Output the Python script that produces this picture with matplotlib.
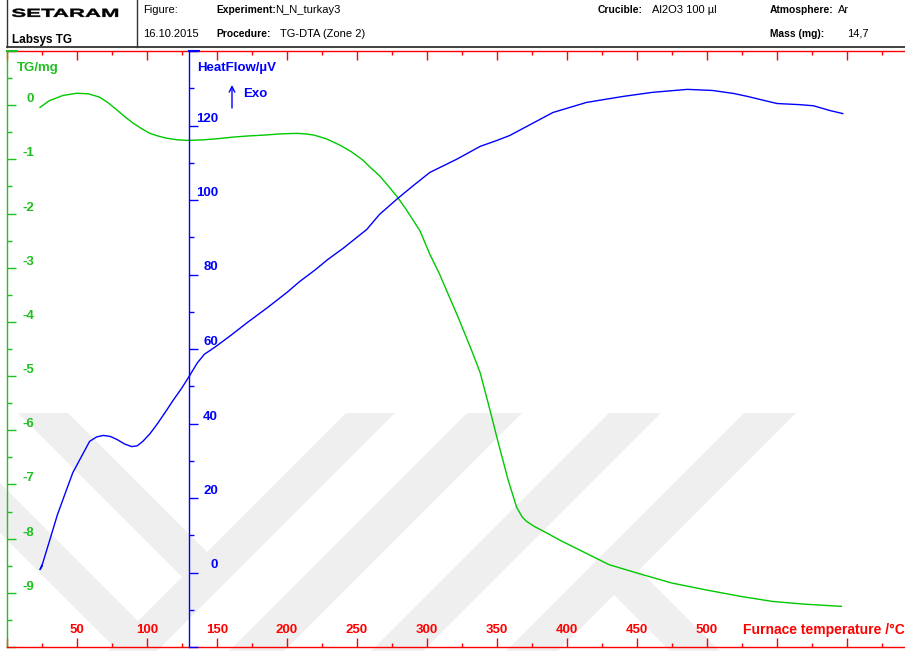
import matplotlib
matplotlib.use("Agg")
import matplotlib.pyplot as plt
from matplotlib.patches import Polygon, PathPatch
from matplotlib.textpath import TextPath
from matplotlib.font_manager import FontProperties
from matplotlib.transforms import Affine2D, IdentityTransform
from matplotlib.lines import Line2D
from matplotlib.ticker import MultipleLocator

# ---------------- data ----------------
tg_temp = [23.6, 30, 40, 50, 58, 66, 72, 78.6, 84, 90, 96, 102, 108, 114, 122, 129,
           140, 150, 161, 171, 185, 195, 207, 213, 219, 228, 238, 246, 254, 260, 266,
           272, 279, 285, 290, 295, 302, 309, 316, 322, 328, 333, 338, 345, 351, 358,
           364, 368, 371, 377, 383, 395, 409, 416, 430, 452, 475, 500, 525, 547, 570, 596]
tg_mass = [-0.04, 0.08, 0.18, 0.22, 0.21, 0.15, 0.05, -0.09, -0.21, -0.33, -0.43, -0.52,
           -0.57, -0.61, -0.64, -0.65, -0.64, -0.62, -0.59, -0.57, -0.55, -0.53, -0.52,
           -0.53, -0.55, -0.62, -0.74, -0.86, -1.01, -1.16, -1.30, -1.48, -1.70, -1.92,
           -2.12, -2.32, -2.75, -3.12, -3.54, -3.90, -4.28, -4.60, -4.94, -5.63, -6.24,
           -6.92, -7.42, -7.60, -7.68, -7.78, -7.86, -8.03, -8.21, -8.30, -8.48, -8.65,
           -8.82, -8.95, -9.07, -9.16, -9.21, -9.25]

hf_temp = [25.2, 23.6, 25.5, 30.7, 36, 42.6, 47, 52, 59, 64, 69, 74, 78.6, 84, 89, 93,
           97, 102, 107, 113, 119, 125, 130, 136, 141, 145, 150, 160, 172, 186, 200, 209,
           220, 229, 240, 257, 266, 279, 290, 302, 321, 338, 350, 359, 375, 390, 414,
           440, 461, 486, 504, 519, 529, 540, 550, 566, 576, 588, 597]
hf_flow = [1.8, 0.8, 2.5, 8.9, 15.5, 22.3, 26.8, 30.3, 35.2, 36.4, 36.8, 36.5, 35.7, 34.5,
           33.8, 34.0, 35.2, 37.2, 39.7, 43.0, 46.4, 49.6, 52.6, 56.3, 58.6, 59.6, 60.9,
           63.7, 67.2, 71.1, 75.2, 78.1, 81.2, 84.0, 87.0, 92.1, 96.1, 100.4, 103.8, 107.4,
           110.9, 114.4, 116.0, 117.3, 120.5, 123.5, 126.2, 127.8, 128.9, 129.7, 129.4,
           128.6, 127.8, 126.8, 125.9, 125.6, 125.3, 124.0, 123.2]

x_labels = [50, 100, 150, 200, 250, 300, 350, 400, 450, 500]
tg_ticks = [0, -1, -2, -3, -4, -5, -6, -7, -8, -9]
hf_ticks = [0, 20, 40, 60, 80, 100, 120]

header_row1 = [("Figure:", 143, "normal"), ("Experiment:", 216, "bold"),
               ("N_N_turkay3", 275, "normal"), ("Crucible:", 598, "bold"),
               ("Al2O3 100 µl", 652, "normal"), ("Atmosphere:", 770, "bold"),
               ("Ar", 838, "normal")]
header_row2 = [("16.10.2015", 143, "normal"), ("Procedure:", 216, "bold"),
               ("TG-DTA (Zone 2)", 280, "normal"), ("Mass (mg):", 770, "bold"),
               ("14,7", 847, "normal")]

# ---------------- style ----------------
W, H = 905, 651
RED = "#ff0000"
GREEN = "#1fc01f"
GCURVE = "#00c800"
BLUE = "#0000ff"
FONT = "Liberation Sans"
plt.rcParams["font.family"] = [FONT, "DejaVu Sans"]

fig = plt.figure(figsize=(W / 100, H / 100), dpi=100)
fig.patch.set_facecolor("white")


def fx(x):
    return x / W


def fy(y):
    return 1 - y / H


# ---------------- watermark ----------------
wm_bands = [
    [(18, 413), (68, 413), (219, 564), (194, 589)],
    [(-10, 473), (150, 633), (125, 658), (-10, 523)],
    [(346, 413), (395, 413), (148, 660), (99, 660)],
    [(467, 413), (522, 413), (275, 660), (220, 660)],
    [(609, 413), (661, 413), (414, 660), (362, 660)],
    [(744, 413), (796, 413), (549, 660), (497, 660)],
    [(601, 582), (626, 557), (729, 660), (679, 660)],
]
for band in wm_bands:
    pts = [(x, H - y) for x, y in band]
    poly = Polygon(pts, closed=True, transform=IdentityTransform(),
                   facecolor="#efefef", edgecolor="none", zorder=-5)
    fig.add_artist(poly)

# ---------------- axes ----------------
left_px, right_px, top_px, bot_px = 7, 905, 51, 647
ax = fig.add_axes([fx(left_px), 1 - bot_px / H, (right_px - left_px) / W,
                   (bot_px - top_px) / H])
ax.patch.set_alpha(0)
ax.set_xlim(0, (right_px - left_px) / 1.4)
ax.set_ylim(-10, 1)
ax.spines["right"].set_visible(False)
ax.spines["top"].set_color(RED)
ax.spines["bottom"].set_color(RED)
ax.spines["left"].set_color(GREEN)
for s in ax.spines.values():
    s.set_linewidth(1.0)
ax.xaxis.set_major_locator(MultipleLocator(50))
ax.xaxis.set_minor_locator(MultipleLocator(25))
ax.yaxis.set_major_locator(MultipleLocator(1))
ax.yaxis.set_minor_locator(MultipleLocator(0.5))
ax.tick_params(axis="x", which="both", direction="in", top=True, bottom=True,
               colors=RED, labelbottom=False, labeltop=False, width=1)
ax.tick_params(axis="x", which="major", length=6.2)
ax.tick_params(axis="x", which="minor", length=3)
ax.tick_params(axis="y", which="both", direction="in", left=True, right=False,
               colors=GREEN, labelleft=False, width=1)
ax.tick_params(axis="y", which="major", length=6.5)
ax.tick_params(axis="y", which="minor", length=3.6)

ax.plot(tg_temp, tg_mass, color=GCURVE, lw=1.0, zorder=3)

ax2 = ax.twinx()
ax2.patch.set_alpha(0)
ax2.set_ylim(-20, 140)
for k in ["right", "top", "bottom"]:
    ax2.spines[k].set_visible(False)
ax2.spines["left"].set_visible(True)
ax2.spines["left"].set_position(("data", 130))
ax2.spines["left"].set_color(BLUE)
ax2.spines["left"].set_linewidth(1.0)
ax2.yaxis.tick_left()
ax2.yaxis.set_major_locator(MultipleLocator(20))
ax2.yaxis.set_minor_locator(MultipleLocator(10))
ax2.tick_params(axis="y", which="both", direction="in", left=True, right=False,
                colors=BLUE, labelleft=False, labelright=False, width=1)
ax2.tick_params(axis="y", which="major", length=6.5)
ax2.tick_params(axis="y", which="minor", length=3.6)
ax2.plot(hf_temp, hf_flow, color=BLUE, lw=1.0, zorder=3)

lab_font = dict(fontsize=9.5, fontweight="bold", family=FONT)

for t in x_labels:
    ax.annotate(str(t), xy=(t, 0), xycoords=("data", "axes fraction"),
                xytext=(0, 17), textcoords="offset pixels", ha="center",
                va="center", color=RED, **lab_font)
ax.annotate("Furnace temperature /°C", xy=(0, 0), xycoords="axes fraction",
            xytext=(743 - left_px, 17), textcoords="offset pixels", ha="left",
            va="center", color=RED, fontsize=10, fontweight="bold", family=FONT)

for v in tg_ticks:
    ax.annotate(str(v), xy=(0, v), xycoords=("axes fraction", "data"),
                xytext=(27, 6), textcoords="offset pixels", ha="right",
                va="center", color=GREEN, **lab_font)
for v in hf_ticks:
    ax2.annotate(str(v), xy=(130, v), xycoords="data",
                 xytext=(29, 7), textcoords="offset pixels", ha="right",
                 va="center", color=BLUE, **lab_font)

fig.text(fx(17), fy(68), "TG/mg", color=GREEN, ha="left", va="center", **lab_font)
fig.text(fx(197), fy(68), "HeatFlow/µV", color=BLUE, ha="left", va="center", **lab_font)
fig.text(fx(243), fy(94), "Exo", color=BLUE, ha="left", va="center", **lab_font)
ax.annotate("", xy=(232, H - 85), xycoords="figure pixels",
            xytext=(232, H - 108), textcoords="figure pixels",
            arrowprops=dict(arrowstyle="->", color=BLUE, lw=1.0,
                            mutation_scale=10, shrinkA=0, shrinkB=0))

# axis caps on top spine
fig.add_artist(Line2D([7, 17], [H - 51, H - 51], color=GREEN, lw=1.5,
                      transform=IdentityTransform()))
fig.add_artist(Line2D([189, 199], [H - 51, H - 51], color=BLUE, lw=1.5,
                      transform=IdentityTransform()))

# ---------------- header ----------------
fig.add_artist(Line2D([7, 905], [H - 46.5, H - 46.5], color="#333333", lw=1.3,
                      transform=IdentityTransform()))
fig.add_artist(Line2D([7, 7], [H - 46.5, H], color="#333333", lw=1.0,
                      transform=IdentityTransform()))
fig.add_artist(Line2D([137, 137], [H - 46.5, H], color="#333333", lw=1.0,
                      transform=IdentityTransform()))

tp = TextPath((0, 0), "SETARAM", size=10,
              prop=FontProperties(family=FONT, weight="bold"))
ext = tp.get_extents()
sx = 106 / ext.width
sy = 8.3 / ext.height
tr = Affine2D().translate(-ext.x0, -ext.y0).scale(sx, sy).translate(12, H - 17)
fig.add_artist(PathPatch(tp, transform=tr, facecolor="black", edgecolor="black",
                         lw=0.3))

fig.text(fx(12), fy(39.5), "Labsys TG", fontsize=8.5, fontweight="bold",
         ha="left", va="center", color="black")
for row, yy in ((header_row1, 10), (header_row2, 34)):
    for s, x, w in row:
        fig.text(fx(x), fy(yy), s, fontsize=7.4 if w == "bold" else 8.0,
                 fontweight=w, ha="left", va="center", color="black")

fig.savefig("out.png", dpi=100, facecolor="white")
